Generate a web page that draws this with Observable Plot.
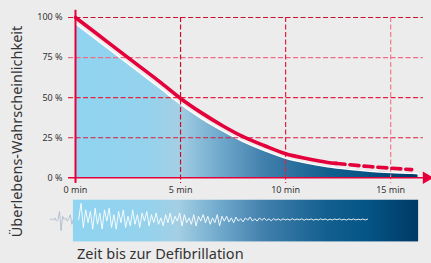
<!DOCTYPE html>
<html>
<head>
<meta charset="utf-8">
<script src="https://cdn.jsdelivr.net/npm/d3@7"></script>
<script src="https://cdn.jsdelivr.net/npm/@observablehq/plot@0.6"></script>
<style>
  html, body { margin: 0; padding: 0; background: #ececec; }
  #wrap { width: 431px; height: 263px; position: relative; overflow: hidden; background: #ececec; }
  #xlabel { position: absolute; left: 77px; top: 245px; font: 14.5px "Noto Sans", sans-serif; color: #333; line-height: 16px; white-space: nowrap; }
</style>
</head>
<body>
<div id="wrap"><div id="chart"></div><div id="xlabel">Zeit bis zur Defibrillation</div></div>
<script>
// --- data ---
const minutes  = [0, 1, 2, 3, 4, 5, 6, 7, 8, 9, 10, 11, 12, 12.4, 13, 14, 15, 16];
const survival = [100, 90, 80, 70, 60, 49.5, 40.5, 32.5, 25.5, 20, 15, 12, 9.6, 9.0, 8.2, 7.0, 6.0, 5.1];
const areaMinutes = [0, 1, 2, 3, 4, 5, 6, 7, 8, 9, 10, 11, 12, 13, 14, 15, 16, 16.3];
const areaTop     = [96.2, 86.2, 76.2, 66.2, 56.2, 46, 37, 29.3, 22.5, 17, 12.2, 9.2, 6.9, 5.3, 4.1, 3.3, 2.8, 2.6];
const yTicks = [0, 25, 50, 75, 100];
const xTicks = [0, 5, 10, 15];
const dashFrom = 12.4;
const yLabel = "Überlebens-Wahrscheinlichkeit";
// ECG trace amplitudes (chart units) within the strip, decaying fibrillation
const ecgValues = [
  0, 10, -5, 6, -2, 5, -6, 7, -3, 4, -6, 6, -1, 7, -5, 3, -6, 5, -2, 6, -5, 2, -4, 6, -3, 3, -5, 4, -1, 5, -4, 3,
  -2, 4, -3, 1, -4, 3, -2, 4, -3, 2, -1, 4, -4, 3, -2, 1, -3, 3, -4, 2, -1, 3, -2, 2, -3, 1, -2, 3, -4, 2, -1, 2,
  -1.5, 1, -2, 1.5, -1, 0.5, -1.5, 1, -0.5, 1.5, -1, 0.5, -1, 1, -0.5, 0.8, -0.6, 0.4, -0.8, 0.5,
  -0.4, 0.3, -0.5, 0.4, -0.3, 0.2, -0.4, 0.5, -0.3, 0.3, -0.2, 0.4, -0.5, 0.3, -0.2, 0.3, -0.4, 0.2, -0.3, 0.4,
  -0.2, 0.3, -0.4, 0.2, -0.3, 0.3, -0.2, 0.4, -0.3, 0.2, -0.4, 0.3, -0.2, 0.3, -0.3, 0.2, -0.2, 0.3, -0.3, 0.2
];
const ecgLeadIn = [0, 0.5, -0.5, 1, -1, 0, 5, -7, 2, 0, 1, -1, 0.5, 3, -3, 0];

// --- derived tables ---
const curve = minutes.map((m, i) => ({m, v: survival[i]}));
const area = areaMinutes.map((m, i) => ({m, v: areaTop[i]}));
const ecgCenter = -26;
const ecgStart = 0.15, ecgEnd = 13.9;
const ecg = ecgValues.map((a, i) => ({m: ecgStart + (ecgEnd - ecgStart) * i / (ecgValues.length - 1), v: ecgCenter + a}));
const lead = ecgLeadIn.map((a, i) => ({m: -1.2 + 1.1 * i / (ecgLeadIn.length - 1), v: ecgCenter + a}));

const RED = "#e4003b";
const font = '"Noto Sans", sans-serif';

const gradient = (index, scales) => {
  const x0 = scales && scales.x ? scales.x(0) : 75;
  const x1 = scales && scales.x ? scales.x(16.3) : 418;
  const defs = d3.create("svg:defs");
  const g = defs.append("linearGradient").attr("id", "blueGrad")
    .attr("gradientUnits", "userSpaceOnUse")
    .attr("x1", x0).attr("x2", x1).attr("y1", 0).attr("y2", 0);
  [[0, "#8fd4f1"], [0.22, "#95d2ec"], [0.30, "#a4cfe4"], [0.43, "#6da7cb"],
   [0.55, "#4280ad"], [0.73, "#13608f"], [0.85, "#055586"], [1, "#003a68"]]
    .forEach(([o, c]) => g.append("stop").attr("offset", o).attr("stop-color", c));
  return defs.node();
};

const grid = (v, color) => Plot.ruleY([v], {x1: -0.33, x2: 16.55, stroke: color, strokeWidth: 1.2, strokeDasharray: "5,2.5"});
const vgrid = (v, color) => Plot.ruleX([v], {y1: 100, y2: -3.5, stroke: color, strokeWidth: 1.2, strokeDasharray: "5,2.5"});

const plot = Plot.plot({
  width: 431,
  height: 243,
  marginLeft: 75,
  marginRight: 3,
  marginTop: 17,
  marginBottom: 65.7,
  style: {background: "#ececec", fontFamily: font, overflow: "visible"},
  x: {domain: [0, 16.8], axis: null},
  y: {domain: [0, 100], axis: null},
  marks: [
    gradient,
    // area under the curve
    Plot.areaY(area, {x: "m", y: "v", fill: "url(#blueGrad)", curve: "monotone-x"}),
    Plot.lineY(area, {x: "m", y: "v", stroke: "#ffffff", strokeWidth: 1.6, curve: "monotone-x"}),
    // grid
    grid(100, "#c8102e"), grid(75, "#ee6c84"), grid(50, "#e2223f"), grid(25, "#d81a3c"),
    vgrid(5, "#c8102e"), vgrid(10, "#e2223f"), vgrid(15, "#ef7a8e"),
    // axes lines
    Plot.ruleX([0], {y1: 104.5, y2: -3.5, stroke: RED, strokeWidth: 2}),
    Plot.ruleY([0], {x1: -0.33, x2: 16.7, stroke: RED, strokeWidth: 1.6}),
    Plot.dot([0], {x: 16.7, y: 0, symbol: "triangle", r: 4.6, rotate: 90, fill: RED, stroke: "none"}),
    // survival curve
    Plot.lineY(curve.filter(d => d.m <= dashFrom), {x: "m", y: "v", stroke: RED, strokeWidth: 3.6, curve: "monotone-x"}),
    Plot.lineY(curve.filter(d => d.m >= dashFrom), {x: "m", y: "v", stroke: RED, strokeWidth: 3.6, strokeDasharray: "9,5", curve: "monotone-x"}),
    // tick labels
    Plot.axisY({ticks: yTicks, tickSize: 0, tickPadding: 13, tickFormat: d => d + " %", fontSize: 9, color: "#333", label: null}),
    Plot.axisX({ticks: xTicks, tickSize: 0, tickPadding: 9, tickFormat: d => d + " min", fontSize: 9, color: "#333", label: null}),
    // y label
    Plot.text([yLabel], {x: -2.76, y: 28.9, text: d => d, rotate: -90, fontSize: 14.5, fill: "#333", fontFamily: font}),
    // ECG strip
    Plot.rect([0], {x1: -0.1, x2: 16.33, y1: -14, y2: -40, fill: "url(#blueGrad)"}),
    Plot.line(lead, {x: "m", y: "v", stroke: "#a9b8cc", strokeWidth: 1, strokeOpacity: 0.8}),
    Plot.line(ecg, {x: "m", y: "v", stroke: "#ffffff", strokeWidth: 0.9})
  ]
});
document.getElementById("chart").appendChild(plot);
</script>
</body>
</html>
